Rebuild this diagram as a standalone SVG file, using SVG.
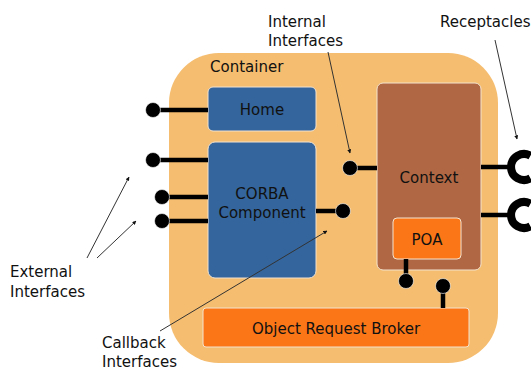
<svg xmlns="http://www.w3.org/2000/svg" width="531" height="370" viewBox="0 0 531 370">
<defs>
<style>
text{font-family:"DejaVu Sans","Verdana",sans-serif;font-size:15px;fill:#111}
.c{text-anchor:middle}
.box{stroke:#f3e3cf;stroke-width:1}
.stub{stroke:#000;stroke-width:4.5;fill:none}
.dot{fill:#000;stroke:#fff;stroke-width:0.6}
.ptr{stroke:#333;stroke-width:1;fill:none;marker-end:url(#ah)}
.rec{stroke:#000;stroke-width:8;fill:none}
</style>
<marker id="ah" viewBox="0 0 10 10" refX="9" refY="5" markerWidth="4" markerHeight="4" orient="auto" markerUnits="userSpaceOnUse">
<path d="M0,0 L10,5 L0,10 z" fill="#111"/>
</marker>
</defs>
<rect width="531" height="370" fill="#fff"/>
<g id="container">
<rect x="169" y="53" width="329" height="310" rx="50" ry="50" fill="#f5bd6f"/>
<text x="210" y="72">Container</text>
</g>
<g id="home">
<rect class="box" x="208" y="87" width="108" height="44" rx="5" fill="#34659c"/>
<text class="c" x="262" y="115">Home</text>
</g>
<g id="corba">
<rect class="box" x="208" y="142" width="108" height="136" rx="7" fill="#34659c"/>
<text class="c" x="262" y="199">CORBA</text>
<text class="c" x="262" y="218">Component</text>
</g>
<g id="context">
<rect class="box" x="377" y="83" width="104" height="187" rx="6" fill="#b06844"/>
<text class="c" x="429" y="183">Context</text>
</g>
<g id="poa">
<rect class="box" x="393" y="218" width="68" height="41" rx="4" fill="#fb7617"/>
<text class="c" x="427" y="245">POA</text>
</g>
<g id="orb">
<rect class="box" x="203" y="308" width="266" height="39" rx="3" fill="#fb7617"/>
<text class="c" x="336" y="334">Object Request Broker</text>
</g>
<g id="connectors">
<line class="stub" x1="153" y1="110" x2="208" y2="110"/>
<circle class="dot" cx="153" cy="110" r="7.5"/>
<line class="stub" x1="153" y1="160" x2="208" y2="160"/>
<circle class="dot" cx="153" cy="160" r="7.5"/>
<line class="stub" x1="162" y1="197" x2="208" y2="197"/>
<circle class="dot" cx="162" cy="197" r="7.5"/>
<line class="stub" x1="162" y1="221" x2="208" y2="221"/>
<circle class="dot" cx="162" cy="221" r="7.5"/>
<line class="stub" x1="316" y1="211" x2="343" y2="211"/>
<circle class="dot" cx="343" cy="211" r="7.5"/>
<line class="stub" x1="350" y1="168" x2="377" y2="168"/>
<circle class="dot" cx="350" cy="168" r="7.5"/>
<line class="stub" x1="406" y1="259" x2="406" y2="281"/>
<circle class="dot" cx="406" cy="281" r="7.5"/>
<line class="stub" x1="443" y1="286" x2="443" y2="308"/>
<circle class="dot" cx="443" cy="286" r="7.5"/>
<line class="stub" x1="481" y1="167" x2="512" y2="167"/>
<path class="rec" d="M530.5,155.7 A13,13 0 1 0 530.5,178.3"/>
<line class="stub" x1="481" y1="215" x2="512" y2="215"/>
<path class="rec" d="M530.5,203.7 A13,13 0 1 0 530.5,226.3"/>
<line class="ptr" x1="328" y1="52" x2="350" y2="153"/>
<line class="ptr" x1="495" y1="40" x2="517" y2="139"/>
<line class="ptr" x1="87" y1="258" x2="129" y2="177"/>
<line class="ptr" x1="97" y1="258" x2="136" y2="221"/>
<line class="ptr" x1="160" y1="331" x2="327" y2="231"/>
</g>
<g id="labels">
<text x="268" y="27">Internal</text>
<text x="268" y="46">Interfaces</text>
<text x="440" y="27">Receptacles</text>
<text x="10" y="277">External</text>
<text x="10" y="297">Interfaces</text>
<text x="102" y="348">Callback</text>
<text x="102" y="367">Interfaces</text>
</g>
</svg>
